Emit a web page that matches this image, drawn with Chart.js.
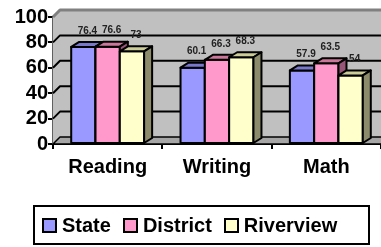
<!DOCTYPE html>
<html>
<head>
<meta charset="utf-8">
<script src="https://cdn.jsdelivr.net/npm/chart.js@4.4.0/dist/chart.umd.min.js"></script>
<style>
    html, body { margin: 0; padding: 0; background: #fff; }
    #wrap { position: relative; width: 381px; height: 247px; }
    #legend {
        position: absolute; left: 33px; top: 205px; width: 326px; height: 36px;
        border: 2px solid #000; display: flex; align-items: center; padding-left: 7px;
        box-sizing: content-box;
        font: bold 20px 'Liberation Sans', Arial, sans-serif; color: #000;
    }
    #legend .item { display: flex; align-items: center; margin-right: 12px; }
    #legend .swatch { width: 11px; height: 11px; border: 2px solid #000; margin-right: 5px; }
</style>
</head>
<body>
<div id="wrap">
    <canvas id="scoreChart" width="381" height="247"></canvas>
    <div id="legend"></div>
</div>
<script>
const subjects = ['Reading', 'Writing', 'Math'];
const stateScores = [76.4, 60.1, 57.9];
const districtScores = [76.6, 66.3, 63.5];
const riverviewScores = [73, 68.3, 54];
const yTicks = [0, 20, 40, 60, 80, 100];

const seriesNames = ['State', 'District', 'Riverview'];
const frontColors = ['#9999ff', '#ff99cc', '#ffffcc'];
const topColors = ['#7777cc', '#cc7799', '#cccc99'];
const sideColors = ['#6666aa', '#995577', '#8c8c6c'];

const WALL = 7;      // depth of the back wall
const BAR_DX = 8;    // depth of the bars
const BAR_DY = 5;

function poly(ctx, pts, fill) {
    ctx.beginPath();
    ctx.moveTo(pts[0][0], pts[0][1]);
    for (let i = 1; i < pts.length; i++) ctx.lineTo(pts[i][0], pts[i][1]);
    ctx.closePath();
    if (fill) { ctx.fillStyle = fill; ctx.fill(); }
    ctx.stroke();
}

// grey walls, floor and gridlines behind the bars
const wallsPlugin = {
    id: 'walls',
    beforeDatasetsDraw(chart) {
        const { ctx, chartArea: a, scales: { y } } = chart;
        ctx.save();
        ctx.lineJoin = 'round';
        ctx.fillStyle = '#c0c0c0';
        ctx.fillRect(a.left + WALL, a.top - WALL, a.right - a.left, a.bottom - a.top);
        ctx.strokeStyle = '#c0c0c0';
        ctx.lineWidth = 1;
        poly(ctx, [[a.left, a.top], [a.left + WALL, a.top - WALL], [a.left + WALL, a.bottom - WALL], [a.left, a.bottom]], '#c0c0c0');
        // floor
        ctx.strokeStyle = '#000';
        ctx.lineWidth = 1.5;
        poly(ctx, [[a.left, a.bottom], [a.right, a.bottom], [a.right + WALL, a.bottom - WALL], [a.left + WALL, a.bottom - WALL]], '#a6a6a6');
        // gridlines
        ctx.lineWidth = 2;
        ctx.strokeStyle = '#000';
        yTicks.forEach(v => {
            if (v === 0 || v === 100) return;
            const py = y.getPixelForValue(v);
            ctx.beginPath();
            ctx.moveTo(a.left, py);
            ctx.lineTo(a.left + WALL, py - WALL);
            ctx.lineTo(a.right, py - WALL);
            ctx.stroke();
        });
        // top frame
        ctx.strokeStyle = '#808080';
        ctx.lineWidth = 3;
        ctx.beginPath();
        ctx.moveTo(a.left, a.top);
        ctx.lineTo(a.left + WALL, a.top - WALL);
        ctx.lineTo(a.right, a.top - WALL);
        ctx.stroke();
        ctx.restore();
    }
};

// redraw bars as 3D blocks in series order, then the value labels
const barsPlugin = {
    id: 'bars3d',
    afterDatasetsDraw(chart) {
        const { ctx } = chart;
        ctx.save();
        ctx.strokeStyle = '#000';
        ctx.lineWidth = 2;
        ctx.lineJoin = 'round';
        chart.data.datasets.forEach((ds, i) => {
            chart.getDatasetMeta(i).data.forEach(bar => {
                const x0 = bar.x - bar.width / 2, x1 = bar.x + bar.width / 2;
                const top = bar.y, base = bar.base;
                poly(ctx, [[x0, top], [x1, top], [x1, base], [x0, base]], frontColors[i]);
                poly(ctx, [[x0, top], [x0 + BAR_DX, top - BAR_DY], [x1 + BAR_DX, top - BAR_DY], [x1, top]], topColors[i]);
                poly(ctx, [[x1, top], [x1 + BAR_DX, top - BAR_DY], [x1 + BAR_DX, base - BAR_DY], [x1, base]], sideColors[i]);
            });
        });
        ctx.fillStyle = '#222';
        ctx.font = "bold 10px 'Liberation Sans', Arial, sans-serif";
        ctx.textAlign = 'center';
        ctx.textBaseline = 'middle';
        chart.data.datasets.forEach((ds, i) => {
            chart.getDatasetMeta(i).data.forEach((bar, j) => {
                ctx.fillText(String(ds.data[j]), bar.x + 4, bar.y - 16);
            });
        });
        ctx.restore();
    }
};

const ctx = document.getElementById('scoreChart').getContext('2d');
const scoreChart = new Chart(ctx, {
    type: 'bar',
    data: {
        labels: subjects,
        datasets: [
            { label: seriesNames[0], data: stateScores, backgroundColor: frontColors[0] },
            { label: seriesNames[1], data: districtScores, backgroundColor: frontColors[1] },
            { label: seriesNames[2], data: riverviewScores, backgroundColor: frontColors[2] }
        ]
    },
    options: {
        responsive: false,
        animation: false,
        categoryPercentage: 0.667,
        barPercentage: 1,
        borderColor: '#000',
        borderWidth: 2,
        layout: { padding: { top: 17, right: 0, bottom: 63, left: 0 } },
        plugins: {
            legend: { display: false },
            tooltip: { enabled: false }
        },
        scales: {
            x: {
                afterFit: (scale) => { scale.height = 40; },
                grid: { drawOnChartArea: false, color: '#000', lineWidth: 2, tickLength: 5 },
                border: { color: '#000', width: 2 },
                ticks: {
                    color: '#000',
                    padding: 6,
                    font: { family: "'Liberation Sans', Arial, sans-serif", size: 20, weight: 'bold' }
                }
            },
            y: {
                min: 0,
                max: 100,
                afterFit: (scale) => { scale.width = 53; },
                afterBuildTicks: (scale) => { scale.ticks = yTicks.map(v => ({ value: v })); },
                grid: { drawOnChartArea: false, color: '#000', lineWidth: 2, tickLength: 5 },
                border: { color: '#000', width: 2 },
                ticks: {
                    color: '#000',
                    padding: 0,
                    autoSkip: false,
                    font: { family: "'Liberation Sans', Arial, sans-serif", size: 20, weight: 'bold' }
                }
            }
        }
    },
    plugins: [wallsPlugin, barsPlugin]
});

// legend box below the chart, built from the datasets
const legendEl = document.getElementById('legend');
scoreChart.data.datasets.forEach((ds, i) => {
    const item = document.createElement('div');
    item.className = 'item';
    const sw = document.createElement('span');
    sw.className = 'swatch';
    sw.style.background = frontColors[i];
    item.appendChild(sw);
    item.appendChild(document.createTextNode(ds.label));
    legendEl.appendChild(item);
});
</script>
</body>
</html>
